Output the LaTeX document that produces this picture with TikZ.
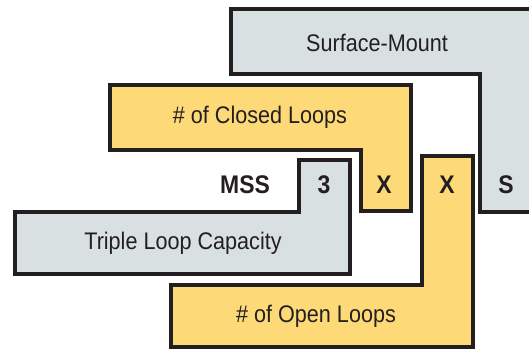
\documentclass[tikz,border=0pt]{standalone}
\usepackage{fontspec}
\setmainfont{Liberation Sans}[FakeStretch=0.9]
\definecolor{grayfill}{RGB}{217,224,226}
\definecolor{yellowfill}{RGB}{253,217,120}
\definecolor{ink}{RGB}{35,31,32}
\tikzset{
  shapebox/.style={draw=ink, line width=4pt, line join=miter},
  grayshape/.style={shapebox, fill=grayfill},
  yellowshape/.style={shapebox, fill=yellowfill},
  lbl/.style={text=ink, font=\fontsize{24}{28}\selectfont, inner sep=0pt, anchor=center},
  blbl/.style={lbl, font=\fontsize{25.5}{28}\selectfont\bfseries}
}
\begin{document}
\begin{tikzpicture}[x=1pt, y=-1pt]
\useasboundingbox (0,0) rectangle (529,350);
\clip (0,0) rectangle (529,350);
% Surface-Mount
\draw[grayshape] (231,9) -- (535,9) -- (535,212) -- (480,212) -- (480,74) -- (231,74) -- cycle;
% Closed loops
\draw[yellowshape] (110,85) -- (411,85) -- (411,211) -- (361,211) -- (361,150) -- (110,150) -- cycle;
% Triple loop capacity
\draw[grayshape] (15,212) -- (299,212) -- (299,160) -- (350,160) -- (350,274) -- (15,274) -- cycle;
% Open loops
\draw[yellowshape] (171,285) -- (422,285) -- (422,156) -- (473,156) -- (473,347) -- (171,347) -- cycle;

\node[lbl] (sm) at (377,43) {Surface-Mount};
\node[lbl] (cl) at (260,117) {\# of Closed Loops};
\node[lbl] (tl) at (183,243) {Triple Loop Capacity};
\node[lbl] (ol) at (316,316) {\# of Open Loops};
\node[blbl] (mss) at (245,185) {MSS};
\node[blbl] (three) at (324,185) {3};
\node[blbl] (x1) at (384,185) {X};
\node[blbl] (x2) at (447,185) {X};
\node[blbl] (s) at (506,185) {S};
\end{tikzpicture}
\end{document}
